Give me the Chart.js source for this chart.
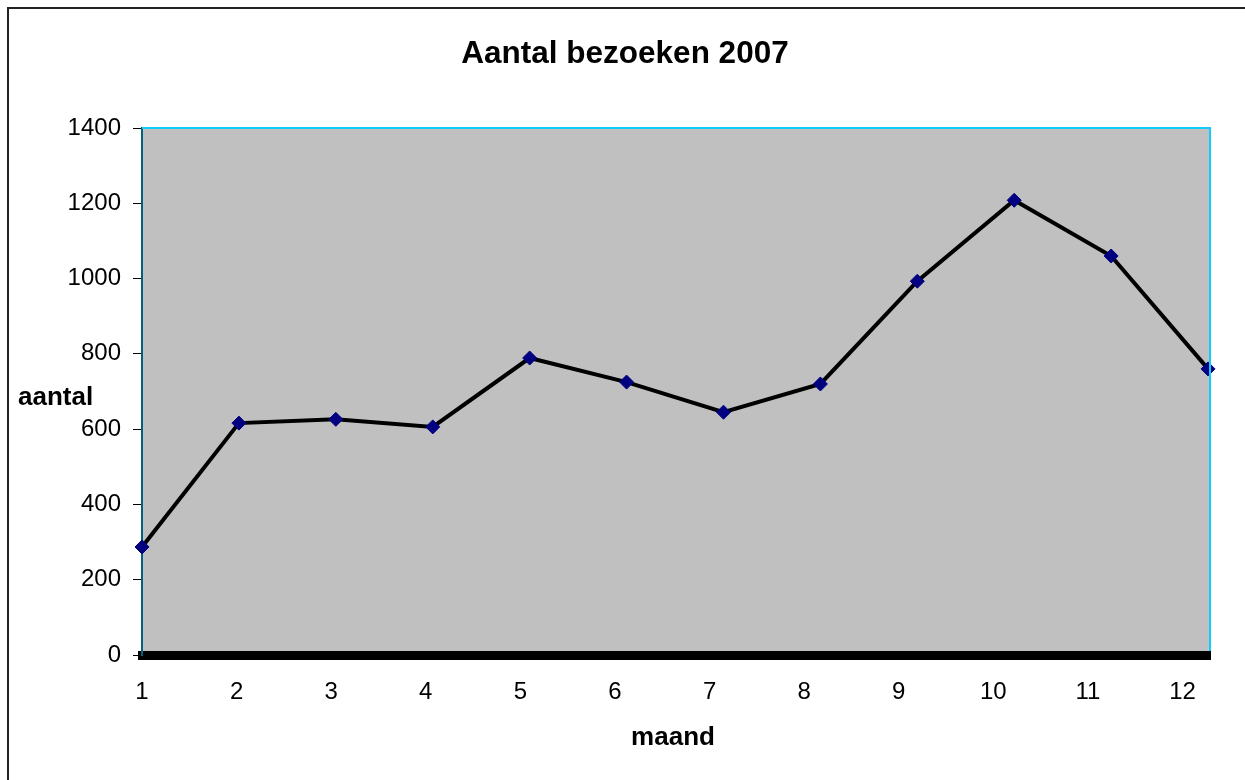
<!DOCTYPE html>
<html>
<head>
<meta charset="utf-8">
<script src="https://cdn.jsdelivr.net/npm/chart.js@4"></script>
<style>
  body { margin: 0; background: #fff; }
</style>
</head>
<body>
<canvas id="chart" width="1245" height="780"></canvas>
<script>
// data
const months = [1, 2, 3, 4, 5, 6, 7, 8, 9, 10, 11, 12];
const visits = [287, 616, 626, 606, 789, 725, 645, 720, 993, 1208, 1060, 760];
const yTicks = [0, 200, 400, 600, 800, 1000, 1200, 1400];

const chartTitle = 'Aantal bezoeken 2007';
const xTitle = 'maand';
const yTitle = 'aantal';

const FONT = '"Liberation Sans", Arial, sans-serif';
Chart.defaults.font.family = FONT;
Chart.defaults.color = '#000';

// gray plot area, cyan top/right edge, outer frame, titles
const excelLook = {
  id: 'excelLook',
  beforeDraw(chart) {
    const { ctx, chartArea: a } = chart;
    ctx.save();
    ctx.fillStyle = '#c0c0c0';
    ctx.fillRect(a.left, a.top, a.right - a.left, a.bottom - a.top);
    // outer frame
    ctx.strokeStyle = '#222';
    ctx.lineWidth = 2;
    ctx.beginPath();
    ctx.moveTo(8, 800);
    ctx.lineTo(8, 8);
    ctx.lineTo(1300, 8);
    ctx.stroke();
    ctx.restore();
  },
  afterDraw(chart) {
    const { ctx, chartArea: a } = chart;
    ctx.save();
    ctx.strokeStyle = '#11ccf8';
    ctx.lineWidth = 2;
    ctx.beginPath();
    ctx.moveTo(a.left, a.top);
    ctx.lineTo(a.right, a.top);
    ctx.lineTo(a.right, a.bottom - 4);
    ctx.stroke();
    ctx.fillStyle = '#000';
    ctx.textBaseline = 'middle';
    ctx.textAlign = 'center';
    ctx.font = 'bold 31.5px ' + FONT;
    ctx.fillText(chartTitle, 625, 54);
    ctx.font = 'bold 26px ' + FONT;
    ctx.fillText(xTitle, 673, 738);
    ctx.textAlign = 'left';
    ctx.fillText(yTitle, 18, 398);
    ctx.restore();
  }
};

const chart = new Chart('chart', {
  type: 'line',
  data: {
    datasets: [{
      data: months.map((m, i) => ({ x: m, y: visits[i] })),
      borderColor: '#000',
      borderWidth: 4,
      tension: 0,
      pointStyle: 'rectRot',
      pointRadius: 7,
      pointBackgroundColor: '#000080',
      pointBorderColor: '#000080',
      pointBorderWidth: 1,
      clip: false,
      xAxisID: 'x',
      yAxisID: 'y'
    }]
  },
  options: {
    responsive: false,
    animation: false,
    events: [],
    layout: { padding: { left: 0, right: 35, top: 128, bottom: 0 } },
    plugins: {
      legend: { display: false },
      tooltip: { enabled: false },
      title: { display: false }
    },
    scales: {
      x: {
        type: 'linear',
        display: false,
        min: 1,
        max: 12.02
      },
      xl: {
        type: 'linear',
        position: 'bottom',
        min: 1,
        max: 12.29,
        afterFit: s => { s.height = 125; },
        grid: { display: false, drawTicks: false },
        border: { display: true, color: '#000', width: 9 },
        ticks: {
          stepSize: 1,
          includeBounds: false,
          autoSkip: false,
          maxRotation: 0,
          padding: 23,
          font: { size: 24 },
          callback: v => Number.isInteger(v) && months.includes(v) ? String(v) : ''
        }
      },
      y: {
        min: 0,
        max: 1400,
        afterFit: s => { s.width = 142; },
        afterBuildTicks: s => { s.ticks = yTicks.map(v => ({ value: v })); },
        grid: {
          drawOnChartArea: false,
          drawTicks: true,
          tickLength: 9,
          color: '#000',
          lineWidth: 1
        },
        border: { display: true, color: '#00627f', width: 2 },
        ticks: {
          padding: 12,
          font: { size: 24 },
          callback: v => String(v)
        }
      }
    }
  },
  plugins: [excelLook]
});
</script>
</body>
</html>
